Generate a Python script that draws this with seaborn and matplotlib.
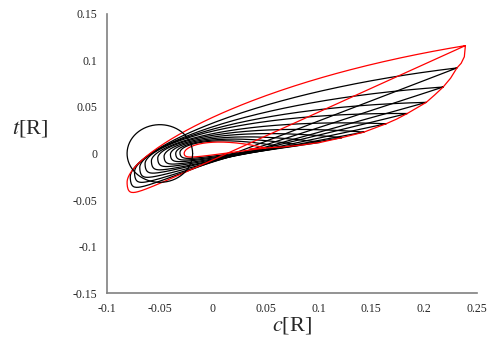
import numpy as np
import pandas as pd
import seaborn as sns
import matplotlib.pyplot as plt

# right-hand tips of each loop, outer -> inner
tip_c = [0.239, 0.231, 0.218, 0.202, 0.184, 0.164, 0.143, 0.122, 0.102, 0.083, 0.066, 0.050]
tip_t = [0.116, 0.092, 0.0715, 0.055, 0.043, 0.032, 0.023, 0.017, 0.012, 0.009, 0.007, 0.006]
# left ends of each loop
left_c = [-0.081, -0.078, -0.074, -0.069, -0.064, -0.058, -0.052, -0.046, -0.040, -0.035, -0.031, -0.027]
left_t = [-0.031, -0.025, -0.020, -0.015, -0.011, -0.008, -0.005, -0.003, -0.001, 0.0, 0.001, 0.0]
# how far the upper / lower branch sits off the chord
upper_bulge = [0.087, 0.075, 0.068, 0.062, 0.056, 0.050, 0.045, 0.040, 0.035, 0.031, 0.027, 0.026]
lower_bulge = [0.018, 0.018, 0.017, 0.016, 0.015, 0.014, 0.013, 0.012, 0.011, 0.010, 0.009, 0.006]

# red curve through the tips
arc_c = [0.239, 0.238, 0.235, 0.231, 0.225, 0.218, 0.210, 0.202, 0.193, 0.184, 0.174, 0.164,
         0.143, 0.122, 0.102, 0.083, 0.066, 0.050, 0.035]
arc_t = [0.116, 0.104, 0.097, 0.092, 0.081, 0.0715, 0.063, 0.055, 0.049, 0.043, 0.037, 0.032,
         0.023, 0.017, 0.012, 0.009, 0.007, 0.006, 0.005]

# the circle
circ_c, circ_t, circ_r = -0.05, 0.0, 0.031

xticks = [-0.1, -0.05, 0, 0.05, 0.1, 0.15, 0.2, 0.25]
yticks = [-0.15, -0.1, -0.05, 0, 0.05, 0.1, 0.15]


def loop(cl, tl, ct, tt, H, h):
    phi = np.linspace(0, np.pi, 150)
    d = (ct - cl) * (1 - np.cos(phi)) / 2
    s = d / (ct - cl)
    c = cl + d
    chord = tl + (tt - tl) * s
    up = chord + H * np.sqrt(s) * (1 - s)
    low = chord - h * (1 - s) * np.sqrt(d / (d + 0.004))
    return np.concatenate([c[::-1], c]), np.concatenate([up[::-1], low])


rows = []
for k in range(len(tip_c)):
    cc, tt = loop(left_c[k], left_t[k], tip_c[k], tip_t[k], upper_bulge[k], lower_bulge[k])
    rows.append(pd.DataFrame({'c': cc, 't': tt, 'orbit': k, 'step': np.arange(len(cc))}))
df = pd.concat(rows, ignore_index=True)

sns.set_style('white')
plt.rcParams['mathtext.fontset'] = 'stix'
plt.rcParams['font.family'] = ['Liberation Serif', 'DejaVu Serif']
plt.rcParams['axes.unicode_minus'] = False

fig = plt.figure(figsize=(4.87, 3.38), dpi=100)
ax = fig.add_axes([0.2197, 0.1331, 0.7598, 0.8255])

inner = df[(df['orbit'] > 0) & (df['orbit'] < len(tip_c) - 1)]
sns.lineplot(data=inner, x='c', y='t', units='orbit', estimator=None, sort=False,
             color='black', lw=0.9, ax=ax)
edge = df[(df['orbit'] == 0) | (df['orbit'] == len(tip_c) - 1)]
sns.lineplot(data=edge, x='c', y='t', units='orbit', estimator=None, sort=False,
             color='red', lw=0.9, ax=ax)
ax.plot(arc_c, arc_t, color='red', lw=0.9)

th = np.linspace(0, 2 * np.pi, 200)
ax.plot(circ_c + circ_r * np.cos(th), circ_t + circ_r * np.sin(th), color='black', lw=0.9)

ax.set_xlim(-0.1, 0.25)
ax.set_ylim(-0.15, 0.15)
ax.set_xticks(xticks)
ax.set_xticklabels(['%g' % v for v in xticks])
ax.set_yticks(yticks)
ax.set_yticklabels(['%g' % v for v in yticks])
ax.tick_params(direction='out', length=4, width=1, color='#808080', labelsize=8.5, pad=3)
for side in ['top', 'right']:
    ax.spines[side].set_visible(False)
for side in ['left', 'bottom']:
    ax.spines[side].set_color('#808080')
    ax.spines[side].set_linewidth(1.2)

ax.set_xlabel(r'$c$[R]', fontsize=16, labelpad=0)
ax.set_ylabel(r'$t$[R]', fontsize=16, rotation=0)
ax.yaxis.set_label_coords(-0.208, 0.59)
ax.yaxis.label.set_verticalalignment('center')

fig.savefig('out.png', dpi=100)
